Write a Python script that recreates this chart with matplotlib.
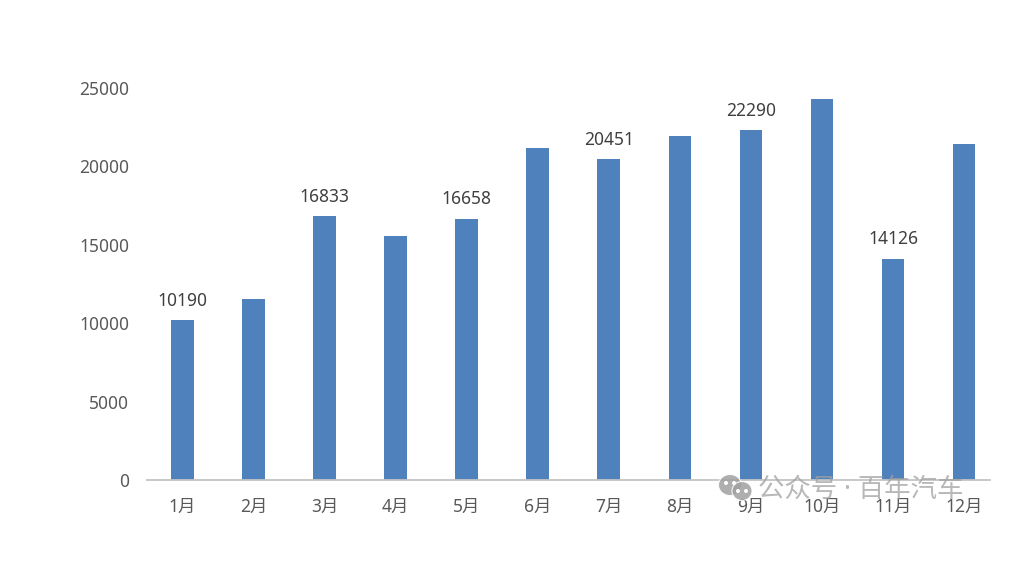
import matplotlib
matplotlib.use('Agg')
import matplotlib.pyplot as plt
from matplotlib.patches import Ellipse, Circle
import numpy as np

plt.rcParams['font.family'] = ['Noto Sans', 'Noto Sans CJK SC']

months = ['1月', '2月', '3月', '4月', '5月', '6月', '7月', '8月', '9月', '10月', '11月', '12月']
sales = [10190, 11550, 16833, 15550, 16658, 21150, 20451, 21950, 22290, 24300, 14126, 21400]
labelled = [0, 2, 4, 6, 8, 10]
yticks = [0, 5000, 10000, 15000, 20000, 25000]

bar_color = '#4f81bd'
text_color = '#595959'

W, H = 1013, 564
fig = plt.figure(figsize=(W / 100, H / 100), dpi=100)
ax = fig.add_axes([147 / W, 1 - 480 / H, (990 - 147) / W, (480 - 88) / H])

x = np.arange(len(months))
ax.bar(x, sales, width=0.32, color=bar_color)
ax.set_xlim(-0.5, 11.365)
ax.set_ylim(0, 25000)

ax.set_xticks(x)
ax.set_xticklabels(months)
ax.set_yticks(yticks)
ax.tick_params(axis='both', length=0, labelsize=12.5, labelcolor=text_color)
ax.tick_params(axis='x', pad=13)
ax.tick_params(axis='y', pad=13)

for side in ['top', 'right', 'left']:
    ax.spines[side].set_visible(False)
ax.spines['bottom'].set_color('#c4c4c4')
ax.spines['bottom'].set_linewidth(1.3)

for i in labelled:
    ax.annotate(str(sales[i]), (x[i], sales[i]), xytext=(0, 7.5), textcoords='offset points',
                ha='center', va='bottom', fontsize=12.5, color='#404040')

# watermark, drawn in pixel coordinates of the figure
wm = '#a0a0a0'
fig.text(758 / W, 1 - 490 / H, '公众号 · 百年汽车', fontsize=19, color=wm,
         alpha=0.75, ha='left', va='center', zorder=5)
for cx, cy, w, h in [(730, 485, 23, 21), (742, 491, 20, 19)]:
    fig.add_artist(Ellipse((cx, H - cy), w, h, transform=None, fc=wm, alpha=0.85,
                           ec='white', lw=0.8, zorder=5))
for cx, cy in [(726, 483), (734, 483), (738, 491), (746, 491)]:
    fig.add_artist(Circle((cx, H - cy), 1.3, transform=None, color='white', zorder=6))

fig.savefig('out.png', dpi=100)
